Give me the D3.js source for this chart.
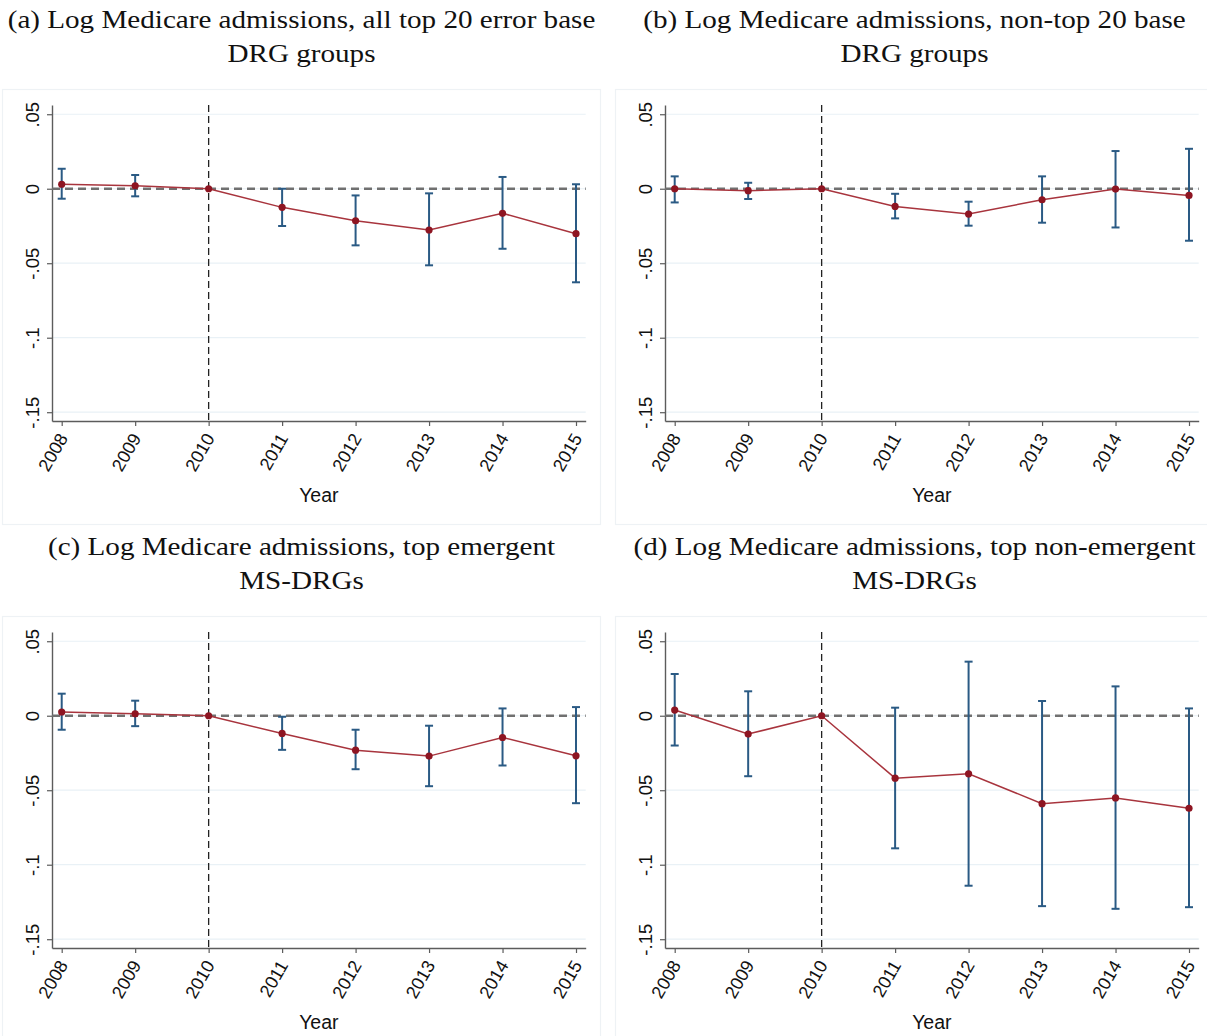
<!DOCTYPE html>
<html>
<head>
<meta charset="utf-8">
<script src="https://cdn.jsdelivr.net/npm/d3@7"></script>
<style>
  html, body { margin: 0; padding: 0; background: #fff; }
  svg { display: block; }
  .tick text { font-family: "Liberation Sans", Arial, sans-serif; fill: #111; }
</style>
</head>
<body>
<svg id="chart" width="1207" height="1036"></svg>
<script>
// Event-study coefficients with 95% confidence intervals, by year (2010 = reference year)
const years = [2008, 2009, 2010, 2011, 2012, 2013, 2014, 2015];
const yTickValues = [0.05, 0, -0.05, -0.1, -0.15];
const yTickLabels = [".05", "0", "-.05", "-.1", "-.15"];
const xTitle = "Year";

// (a) all top 20 error base DRG groups
const titleA = ["(a) Log Medicare admissions, all top 20 error base", "DRG groups"];
const estA = [0.0030, 0.0020, 0, -0.0125, -0.0215, -0.0277, -0.0165, -0.0302];
const loA  = [-0.0067, -0.0051, 0, -0.0250, -0.0380, -0.0514, -0.0403, -0.0628];
const hiA  = [0.0134, 0.0092, 0, 0.0000, -0.0045, -0.0031, 0.0079, 0.0030];

// (b) non-top 20 base DRG groups
const titleB = ["(b) Log Medicare admissions, non-top 20 base", "DRG groups"];
const estB = [0.0000, -0.0013, 0, -0.0119, -0.0170, -0.0074, -0.0002, -0.0045];
const loB  = [-0.0092, -0.0069, 0, -0.0199, -0.0248, -0.0228, -0.0260, -0.0349];
const hiB  = [0.0083, 0.0040, 0, -0.0034, -0.0087, 0.0083, 0.0253, 0.0268];

// (c) top emergent MS-DRGs
const titleC = ["(c) Log Medicare admissions, top emergent", "MS-DRGs"];
const estC = [0.0025, 0.0013, 0, -0.0119, -0.0231, -0.0271, -0.0146, -0.0269];
const loC  = [-0.0094, -0.0070, 0, -0.0229, -0.0359, -0.0473, -0.0334, -0.0587];
const hiC  = [0.0148, 0.0101, 0, -0.0007, -0.0094, -0.0067, 0.0049, 0.0058];

// (d) top non-emergent MS-DRGs
const titleD = ["(d) Log Medicare admissions, top non-emergent", "MS-DRGs"];
const estD = [0.0038, -0.0123, 0, -0.0419, -0.0390, -0.0590, -0.0552, -0.0621];
const loD  = [-0.0200, -0.0406, 0, -0.0890, -0.1141, -0.1278, -0.1296, -0.1285];
const hiD  = [0.0280, 0.0164, 0, 0.0054, 0.0363, 0.0099, 0.0197, 0.0049];

const panels = [
  { title: titleA, est: estA, lo: loA, hi: hiA, ox: 0,   oy: 0 },
  { title: titleB, est: estB, lo: loB, hi: hiB, ox: 613, oy: 0 },
  { title: titleC, est: estC, lo: loC, hi: hiC, ox: 0,   oy: 527 },
  { title: titleD, est: estD, lo: loD, hi: hiD, ox: 613, oy: 527 }
];

const svg = d3.select("#chart");

// Shared scales (every panel uses the same axes)
const x = d3.scaleLinear().domain([2007.868, 2015.132]).range([52, 585.7]);
const y = d3.scaleLinear().domain([-0.1559, 0.0562]).range([421, 105]);

const lineColor = "#a8343d";
const markerColor = "#8e1522";
const ciColor = "#2a5a84";

panels.forEach(p => {
  const g = svg.append("g").attr("transform", `translate(${p.ox},${p.oy})`);

  // graph region frame
  g.append("rect")
    .attr("x", 2.5).attr("y", 89.5).attr("width", 598).attr("height", 435)
    .attr("fill", "#fff").attr("stroke", "#eef2f5").attr("stroke-width", 1.2);

  // two-line serif title (set slightly wide, as in the typeset figure)
  g.append("text")
    .attr("transform", "translate(301.5,0) scale(1.165,1)")
    .attr("text-anchor", "middle")
    .attr("font-family", "'Liberation Serif', 'Times New Roman', serif")
    .attr("font-size", 25).attr("fill", "#111")
    .selectAll("tspan").data(p.title).join("tspan")
    .attr("x", 0).attr("y", (d, i) => i === 0 ? 28 : 62)
    .text(d => d);

  // horizontal grid lines
  g.append("g").selectAll("line").data(yTickValues).join("line")
    .attr("x1", x.range()[0]).attr("x2", x.range()[1])
    .attr("y1", d => y(d)).attr("y2", d => y(d))
    .attr("stroke", "#e9f1f6").attr("stroke-width", 1.2);

  // y axis
  const yAxis = g.append("g").attr("transform", `translate(${x.range()[0]},0)`)
    .call(d3.axisLeft(y).tickValues(yTickValues).tickSize(5).tickSizeOuter(0)
      .tickFormat((d, i) => yTickLabels[i]));
  yAxis.select(".domain").attr("stroke", "#5c5c5c").attr("stroke-width", 1.4);
  yAxis.selectAll(".tick line").attr("stroke", "#5c5c5c").attr("stroke-width", 1.2);
  yAxis.selectAll(".tick text")
    .attr("x", null).attr("dy", null)
    .attr("transform", "translate(-13,0) rotate(-90)")
    .attr("text-anchor", "middle")
    .attr("font-size", 18.5);

  // x axis
  const xAxis = g.append("g").attr("transform", `translate(0,${y.range()[0]})`)
    .call(d3.axisBottom(x).tickValues(years).tickSize(5).tickSizeOuter(0)
      .tickFormat(d3.format("d")));
  xAxis.select(".domain").attr("stroke", "#5c5c5c").attr("stroke-width", 1.4);
  xAxis.selectAll(".tick line").attr("stroke", "#5c5c5c").attr("stroke-width", 1.2);
  xAxis.selectAll(".tick text")
    .attr("y", null).attr("dy", null)
    .attr("transform", "translate(1,14) rotate(-60)")
    .attr("text-anchor", "end")
    .attr("dominant-baseline", "central")
    .attr("font-size", 18);

  // x axis title
  g.append("text")
    .attr("x", (x.range()[0] + x.range()[1]) / 2).attr("y", 502)
    .attr("text-anchor", "middle")
    .attr("font-family", "'Liberation Sans', Arial, sans-serif")
    .attr("font-size", 19.5).attr("fill", "#111")
    .text(xTitle);

  // reference lines: zero effect and policy year
  g.append("line")
    .attr("x1", x.range()[0]).attr("x2", x.range()[1])
    .attr("y1", y(0)).attr("y2", y(0))
    .attr("stroke", "#707070").attr("stroke-width", 2.6)
    .attr("stroke-dasharray", "8,5");
  g.append("line")
    .attr("x1", x(2010)).attr("x2", x(2010))
    .attr("y1", y.range()[1]).attr("y2", y.range()[0])
    .attr("stroke", "#222").attr("stroke-width", 1.3)
    .attr("stroke-dasharray", "7,4");

  const rows = years.map((yr, i) => ({ yr, est: p.est[i], lo: p.lo[i], hi: p.hi[i] }));

  // confidence intervals with caps
  const ci = g.append("g").attr("stroke", ciColor).attr("stroke-width", 2);
  const bars = rows.filter(r => r.hi !== r.lo);
  ci.selectAll("line.v").data(bars).join("line").attr("class", "v")
    .attr("x1", d => x(d.yr)).attr("x2", d => x(d.yr))
    .attr("y1", d => y(d.hi)).attr("y2", d => y(d.lo));
  ci.selectAll("line.t").data(bars).join("line").attr("class", "t")
    .attr("x1", d => x(d.yr) - 4).attr("x2", d => x(d.yr) + 4)
    .attr("y1", d => y(d.hi)).attr("y2", d => y(d.hi));
  ci.selectAll("line.b").data(bars).join("line").attr("class", "b")
    .attr("x1", d => x(d.yr) - 4).attr("x2", d => x(d.yr) + 4)
    .attr("y1", d => y(d.lo)).attr("y2", d => y(d.lo));

  // point estimates connected by a line
  g.append("path").datum(rows)
    .attr("fill", "none").attr("stroke", lineColor).attr("stroke-width", 1.5)
    .attr("d", d3.line().x(d => x(d.yr)).y(d => y(d.est)));
  g.append("g").selectAll("circle").data(rows).join("circle")
    .attr("cx", d => x(d.yr)).attr("cy", d => y(d.est)).attr("r", 3.6)
    .attr("fill", markerColor);
});
</script>
</body>
</html>
